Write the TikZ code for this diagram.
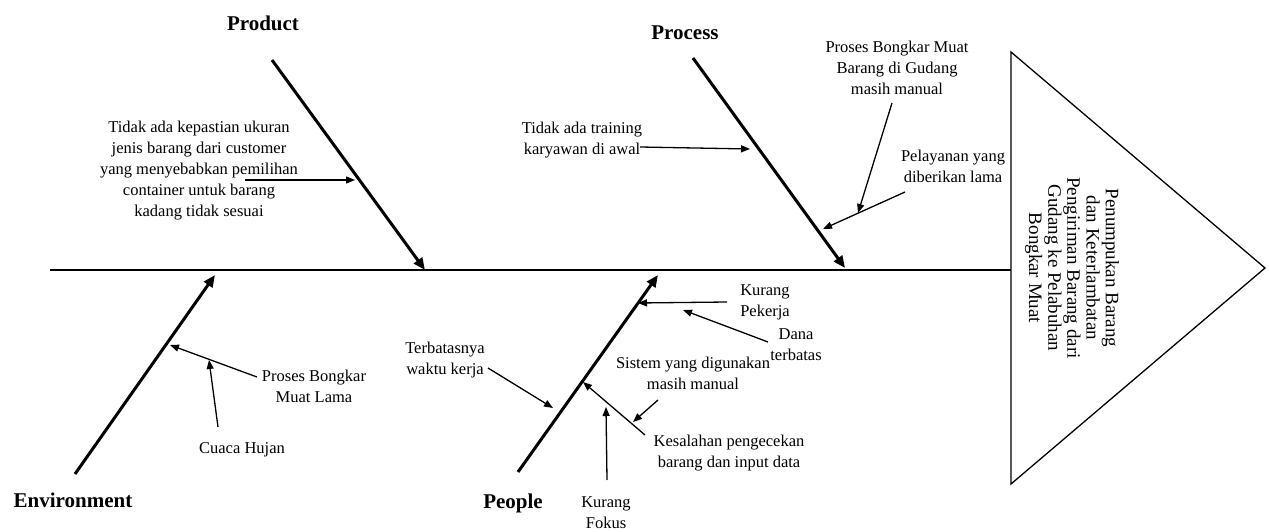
\documentclass[tikz,border=0pt]{standalone}
\usepackage{fontspec}
\setmainfont{Liberation Serif}
\usetikzlibrary{arrows.meta}
\begin{document}
\begin{tikzpicture}[x=1pt,y=-1pt,
  txt/.style={inner sep=0pt,align=center,font=\fontsize{16.5}{21}\selectfont},
  cat/.style={inner sep=0pt,font=\fontsize{21}{25}\selectfont\bfseries},
  bone/.style={line width=3pt,-{Triangle[length=12pt,width=10pt]}},
  sub/.style={line width=1.3pt,-{Triangle[length=9pt,width=7pt]}},
  thinline/.style={line width=1.3pt}]
\fill[white] (0,0) rectangle (1270,532);
\useasboundingbox (0,0) rectangle (1270,532);

% spine and head
\coordinate (spS) at (50,270);
\coordinate (triT) at (1011,52);
\coordinate (triA) at (1265,268);
\coordinate (triB) at (1011,484);
\coordinate (spE) at (1011,270);
\draw[thinline] (spS) -- (spE);
\draw[thinline,line join=miter] (triT) -- (triA) -- (triB) -- cycle;
\node[inner sep=0pt,align=center,rotate=-90,font=\fontsize{19}{19.2}\selectfont] (effect) at (1072,268)
  {Penumpukan Barang\\dan Keterlambatan\\Pengiriman Barang dari\\Gudang ke Pelabuhan\\Bongkar Muat};

% categories
\node[cat] (product) at (263,23) {Product};
\node[cat] (process) at (685,33) {Process};
\node[cat] (environment) at (73,500) {Environment};
\node[cat] (people) at (513,503) {People};

% bones
\coordinate (prodS) at (272,60);  \coordinate (prodE) at (425,270);
\coordinate (procS) at (693,58);  \coordinate (procE) at (845,268);
\coordinate (envS) at (75,474);   \coordinate (envE) at (215,275);
\coordinate (peoS) at (518,472);  \coordinate (peoE) at (658,275);
\draw[bone] (prodS) -- (prodE);
\draw[bone] (procS) -- (procE);
\draw[bone] (envS) -- (envE);
\draw[bone] (peoS) -- (peoE);

% cause texts
\node[txt] (prodtxt) at (199,171) {Tidak ada kepastian ukuran\\jenis barang dari customer\\yang menyebabkan pemilihan\\container untuk barang\\kadang tidak sesuai};
\node[txt] (train) at (582,140) {Tidak ada training\\karyawan di awal};
\node[txt] (bongkar) at (897,68) {Proses Bongkar Muat\\Barang di Gudang\\masih manual};
\node[txt] (pelayanan) at (953,166) {Pelayanan yang\\diberikan lama};
\node[txt] (envproses) at (314,386) {Proses Bongkar\\Muat Lama};
\node[txt] (cuaca) at (242,450) {Cuaca Hujan};
\node[txt] (kpekerja) at (765,302) {Kurang\\Pekerja};
\node[txt] (dana) at (796,345) {Dana\\terbatas};
\node[txt] (sistem) at (693,373) {Sistem yang digunakan\\masih manual};
\node[txt] (kesalahan) at (729,453) {Kesalahan pengecekan\\barang dan input data};
\node[txt] (fokus) at (606,513) {Kurang\\Fokus};
\node[txt] (terbatas) at (445,360) {Terbatasnya\\waktu kerja};

% cause arrows
\coordinate (a1s) at (245,180); \coordinate (a1e) at (355,180);
\coordinate (a2s) at (640,147); \coordinate (a2e) at (750,149);
\coordinate (a3s) at (892,103); \coordinate (a3e) at (858,213);
\coordinate (a4s) at (905,192); \coordinate (a4e) at (823,229);
\coordinate (a5s) at (257,377); \coordinate (a5e) at (170,345);
\coordinate (a6s) at (218,427); \coordinate (a6e) at (209,360);
\coordinate (a7s) at (727,302); \coordinate (a7e) at (638,303);
\coordinate (a8s) at (768,342); \coordinate (a8e) at (683,310);
\coordinate (a9s) at (658,400); \coordinate (a9e) at (633,422);
\coordinate (a10s) at (645,435); \coordinate (a10e) at (583,382);
\coordinate (a11s) at (607,480); \coordinate (a11e) at (606,407);
\coordinate (a12s) at (488,368); \coordinate (a12e) at (553,408);
\foreach \i in {1,...,12} {\draw[sub] (a\i s) -- (a\i e);}
\end{tikzpicture}
\end{document}
